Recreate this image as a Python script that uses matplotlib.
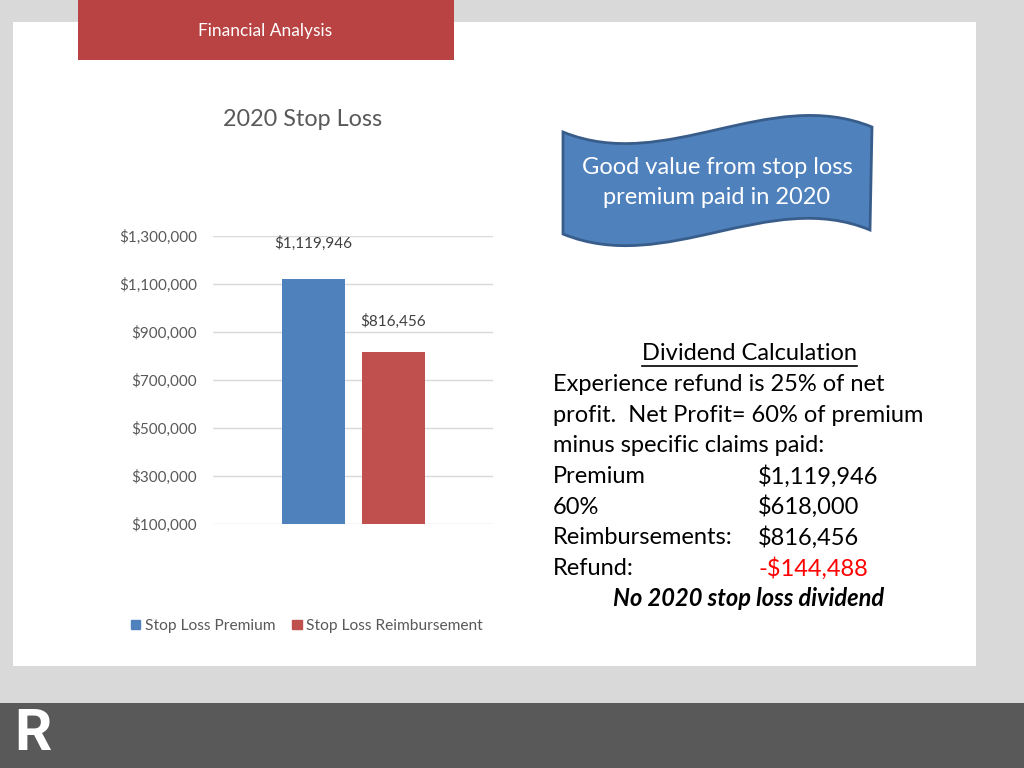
import matplotlib
matplotlib.use("Agg")
import matplotlib.pyplot as plt
from matplotlib.patches import Rectangle, PathPatch
from matplotlib.path import Path
from matplotlib.ticker import FuncFormatter

plt.rcParams['font.family'] = ['Lato', 'DejaVu Sans']

# data
categories = ['Stop Loss Premium', 'Stop Loss Reimbursement']
values = [1119946, 816456]
bar_colors = ['#4f81bd', '#c0504d']
yticks = [100000, 300000, 500000, 700000, 900000, 1100000, 1300000]

calc_labels = ['Premium', '60%', 'Reimbursements:', 'Refund:']
calc_values = ['$1,119,946', '$618,000', '$816,456', '-$144,488']

W, H = 1024, 768
fig = plt.figure(figsize=(W / 100, H / 100), dpi=100)
fig.patch.set_facecolor('#d9d9d9')

# slide layer in pixel coords
bg = fig.add_axes([0, 0, 1, 1], zorder=0)
bg.set_xlim(0, W)
bg.set_ylim(H, 0)
bg.axis('off')

bg.add_patch(Rectangle((13, 22), 963, 644, facecolor='white', edgecolor='none'))
bg.add_patch(Rectangle((0, 703), W, 65, facecolor='#595959', edgecolor='none'))
bg.add_patch(Rectangle((78, 0), 376, 60, facecolor='#b94242', edgecolor='none'))
bg.text(265, 31, 'Financial Analysis', color='white', fontsize=12.5,
        ha='center', va='center')
bg.text(33, 735, 'R', color='white', fontsize=42, fontweight='bold',
        ha='center', va='center', family=['Roboto', 'DejaVu Sans'])

bg.text(303, 119, '2020 Stop Loss', color='#595959', fontsize=16.8,
        ha='center', va='center')

# wave banner
d = 42
verts = [(563, 132), (666, 132 + d), (769, 127 - d), (872, 127),
         (870, 230),
         (769, 230 - d), (666, 234 + d), (563, 234),
         (563, 132)]
codes = [Path.MOVETO, Path.CURVE4, Path.CURVE4, Path.CURVE4,
         Path.LINETO,
         Path.CURVE4, Path.CURVE4, Path.CURVE4,
         Path.CLOSEPOLY]
bg.add_patch(PathPatch(Path(verts, codes), facecolor='#4f81bd',
                       edgecolor='#385d8a', linewidth=2))
bg.text(717, 168, 'Good value from stop loss', color='white', fontsize=17,
        ha='center', va='center')
bg.text(717, 198, 'premium paid in 2020', color='white', fontsize=17,
        ha='center', va='center')

# dividend calculation text
fs = 17
y0, dy = 354, 30.6
head = bg.text(749, y0, 'Dividend Calculation', fontsize=fs, ha='center',
               va='center', color='black')
lines = ['Experience refund is 25% of net',
         'profit.  Net Profit= 60% of premium',
         'minus specific claims paid:']
for i, s in enumerate(lines):
    bg.text(553, y0 + dy * (i + 1), s, fontsize=fs, va='center')
for i, (lab, val) in enumerate(zip(calc_labels, calc_values)):
    y = y0 + dy * (i + 4)
    bg.text(553, y, lab, fontsize=fs, va='center')
    bg.text(758, y, val, fontsize=fs, va='center',
            color='#ff0000' if val.startswith('-') else 'black')
bg.text(749, y0 + dy * 8, 'No 2020 stop loss dividend', fontsize=fs,
        ha='center', va='center', fontweight='bold', fontstyle='italic')

# chart
ax = fig.add_axes([213 / W, 1 - 524 / H, 280 / W, 288 / H], zorder=2)
ax.patch.set_alpha(0)
x = [0, 1]
ax.bar(x, values, width=0.79, color=bar_colors, zorder=3)
ax.set_xlim(-1.256, 2.244)
ax.set_ylim(100000, 1300000)
ax.set_yticks(yticks)
ax.yaxis.set_major_formatter(FuncFormatter(lambda v, p: f'${v:,.0f}'))
ax.set_xticks([])
ax.tick_params(axis='y', length=0, pad=11.5, labelsize=11, labelcolor='#595959')
ax.grid(axis='y', color='#d9d9d9', linewidth=1, zorder=0)
for s in ax.spines.values():
    s.set_visible(False)

offsets = [26, 22]
for xi, v, off in zip(x, values, offsets):
    ax.annotate(f'${v:,.0f}', (xi, v), xytext=(0, off), textcoords='offset points',
                ha='center', va='center', fontsize=11, color='#404040')

handles = [Rectangle((0, 0), 1, 1, color=c) for c in bar_colors]
ax.legend(handles, categories, loc='center', bbox_to_anchor=(307 / W, 1 - 626 / H),
          bbox_transform=fig.transFigure, ncol=2, frameon=False,
          handlelength=0.6, handleheight=0.6, handletextpad=0.3,
          columnspacing=1.1, fontsize=11.2, labelcolor='#595959')

# underline heading
fig.canvas.draw()
bb = head.get_window_extent()
inv = bg.transData.inverted()
(x1, _), (x2, _) = inv.transform([(bb.x0, bb.y0), (bb.x1, bb.y0)])
bg.plot([x1, x2], [y0 + 12, y0 + 12], color='black', linewidth=1.2)

fig.savefig('out.png', dpi=100, facecolor=fig.get_facecolor())
